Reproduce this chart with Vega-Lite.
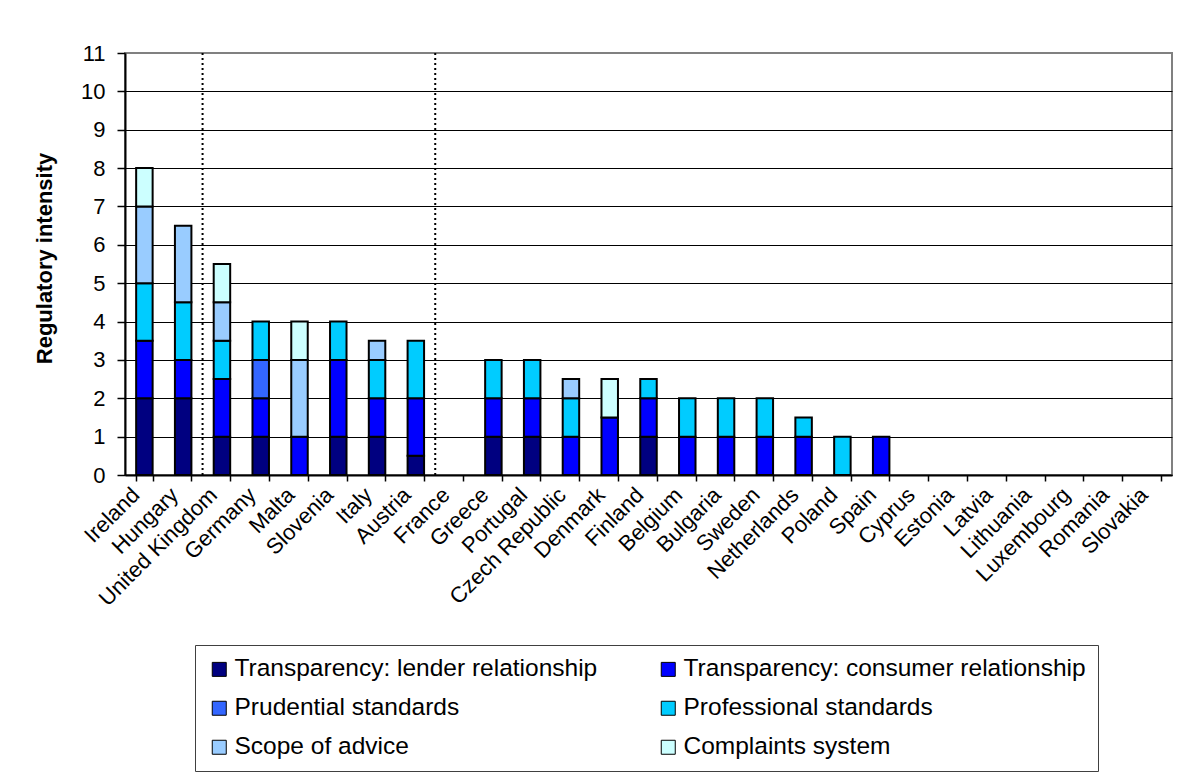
{
  "$schema": "https://vega.github.io/schema/vega-lite/v6.json",
  "width": 1047,
  "height": 422,
  "autosize": {"type": "none"},
  "padding": {"left": 125, "top": 53, "right": 21, "bottom": 302},
  "background": "white",
  "config": {
    "font": "Liberation Sans",
    "view": {"stroke": "#808080", "strokeWidth": 2},
    "axis": {"labelColor": "#000", "titleColor": "#000", "domainColor": "#000", "tickColor": "#000"}
  },
  "datasets": {
    "scores": [
      {"country": "Ireland", "part": "Transparency: lender relationship", "value": 2},
      {"country": "Ireland", "part": "Transparency: consumer relationship", "value": 1.5},
      {"country": "Ireland", "part": "Professional standards", "value": 1.5},
      {"country": "Ireland", "part": "Scope of advice", "value": 2},
      {"country": "Ireland", "part": "Complaints system", "value": 1},
      {"country": "Hungary", "part": "Transparency: lender relationship", "value": 2},
      {"country": "Hungary", "part": "Transparency: consumer relationship", "value": 1},
      {"country": "Hungary", "part": "Professional standards", "value": 1.5},
      {"country": "Hungary", "part": "Scope of advice", "value": 2},
      {"country": "United Kingdom", "part": "Transparency: lender relationship", "value": 1},
      {"country": "United Kingdom", "part": "Transparency: consumer relationship", "value": 1.5},
      {"country": "United Kingdom", "part": "Professional standards", "value": 1},
      {"country": "United Kingdom", "part": "Scope of advice", "value": 1},
      {"country": "United Kingdom", "part": "Complaints system", "value": 1},
      {"country": "Germany", "part": "Transparency: lender relationship", "value": 1},
      {"country": "Germany", "part": "Transparency: consumer relationship", "value": 1},
      {"country": "Germany", "part": "Prudential standards", "value": 1},
      {"country": "Germany", "part": "Professional standards", "value": 1},
      {"country": "Malta", "part": "Transparency: consumer relationship", "value": 1},
      {"country": "Malta", "part": "Scope of advice", "value": 2},
      {"country": "Malta", "part": "Complaints system", "value": 1},
      {"country": "Slovenia", "part": "Transparency: lender relationship", "value": 1},
      {"country": "Slovenia", "part": "Transparency: consumer relationship", "value": 2},
      {"country": "Slovenia", "part": "Professional standards", "value": 1},
      {"country": "Italy", "part": "Transparency: lender relationship", "value": 1},
      {"country": "Italy", "part": "Transparency: consumer relationship", "value": 1},
      {"country": "Italy", "part": "Professional standards", "value": 1},
      {"country": "Italy", "part": "Scope of advice", "value": 0.5},
      {"country": "Austria", "part": "Transparency: lender relationship", "value": 0.5},
      {"country": "Austria", "part": "Transparency: consumer relationship", "value": 1.5},
      {"country": "Austria", "part": "Professional standards", "value": 1.5},
      {"country": "Greece", "part": "Transparency: lender relationship", "value": 1},
      {"country": "Greece", "part": "Transparency: consumer relationship", "value": 1},
      {"country": "Greece", "part": "Professional standards", "value": 1},
      {"country": "Portugal", "part": "Transparency: lender relationship", "value": 1},
      {"country": "Portugal", "part": "Transparency: consumer relationship", "value": 1},
      {"country": "Portugal", "part": "Professional standards", "value": 1},
      {"country": "Czech Republic", "part": "Transparency: consumer relationship", "value": 1},
      {"country": "Czech Republic", "part": "Professional standards", "value": 1},
      {"country": "Czech Republic", "part": "Scope of advice", "value": 0.5},
      {"country": "Denmark", "part": "Transparency: consumer relationship", "value": 1.5},
      {"country": "Denmark", "part": "Complaints system", "value": 1},
      {"country": "Finland", "part": "Transparency: lender relationship", "value": 1},
      {"country": "Finland", "part": "Transparency: consumer relationship", "value": 1},
      {"country": "Finland", "part": "Professional standards", "value": 0.5},
      {"country": "Belgium", "part": "Transparency: consumer relationship", "value": 1},
      {"country": "Belgium", "part": "Professional standards", "value": 1},
      {"country": "Bulgaria", "part": "Transparency: consumer relationship", "value": 1},
      {"country": "Bulgaria", "part": "Professional standards", "value": 1},
      {"country": "Sweden", "part": "Transparency: consumer relationship", "value": 1},
      {"country": "Sweden", "part": "Professional standards", "value": 1},
      {"country": "Netherlands", "part": "Transparency: consumer relationship", "value": 1},
      {"country": "Netherlands", "part": "Professional standards", "value": 0.5},
      {"country": "Poland", "part": "Professional standards", "value": 1},
      {"country": "Spain", "part": "Transparency: consumer relationship", "value": 1}
    ],
    "dividers": [
      {"country": "United Kingdom"},
      {"country": "France"}
    ]
  },
  "layer": [
    {
      "data": {"name": "scores"},
      "transform": [
        {
          "calculate": "indexof(['Transparency: lender relationship', 'Transparency: consumer relationship', 'Prudential standards', 'Professional standards', 'Scope of advice', 'Complaints system'], datum.part)",
          "as": "stackOrder"
        }
      ],
      "mark": {"type": "bar", "stroke": "#000", "strokeWidth": 2},
      "encoding": {
        "x": {
          "field": "country",
          "type": "nominal",
          "scale": {
            "domain": ["Ireland", "Hungary", "United Kingdom", "Germany", "Malta", "Slovenia", "Italy", "Austria", "France", "Greece", "Portugal", "Czech Republic", "Denmark", "Finland", "Belgium", "Bulgaria", "Sweden", "Netherlands", "Poland", "Spain", "Cyprus", "Estonia", "Latvia", "Lithuania", "Luxembourg", "Romania", "Slovakia"],
            "paddingInner": 0.575,
            "paddingOuter": 0.2875
          },
          "axis": {
            "title": null,
            "labelAngle": -45,
            "labelAlign": "right",
            "labelBaseline": "middle",
            "labelFontSize": 22,
            "labelPadding": 10,
            "labelOffset": -9,
            "labelOverlap": false,
            "labelLimit": 0,
            "tickBand": "extent",
            "tickSize": 6,
            "tickWidth": 1.5,
            "domainWidth": 2,
            "grid": false
          }
        },
        "y": {
          "field": "value",
          "type": "quantitative",
          "stack": "zero",
          "scale": {"domain": [0, 11], "nice": false},
          "axis": {
            "values": [0, 1, 2, 3, 4, 5, 6, 7, 8, 9, 10, 11],
            "title": "Regulatory intensity",
            "titleFontSize": 22,
            "titleFontWeight": "bold",
            "titleAngle": -90,
            "titleAlign": "center",
            "titleBaseline": "middle",
            "titleX": -81,
            "titleY": 205,
            "labelFontSize": 22,
            "labelPadding": 12,
            "tickSize": 8,
            "tickWidth": 1.5,
            "domainWidth": 2,
            "grid": true,
            "gridWidth": 1,
            "gridColor": {"condition": {"test": "datum.value === 11", "value": "#808080"}, "value": "#000"}
          }
        },
        "color": {
          "field": "part",
          "type": "nominal",
          "scale": {
            "domain": ["Transparency: lender relationship", "Transparency: consumer relationship", "Prudential standards", "Professional standards", "Scope of advice", "Complaints system"],
            "range": ["#000080", "#0000FF", "#3366FF", "#00CCFF", "#99CCFF", "#CCFFFF"]
          },
          "legend": {
            "title": null,
            "orient": "none",
            "direction": "horizontal",
            "legendX": 70,
            "legendY": 592,
            "columns": 2,
            "gridAlign": "each",
            "columnPadding": 58,
            "rowPadding": 14,
            "padding": 12,
            "strokeColor": "#404040",
            "fillColor": "white",
            "labelFontSize": 24.5,
            "labelColor": "#000",
            "labelLimit": 0,
            "labelOffset": 3,
            "symbolType": "square",
            "symbolSize": 196,
            "symbolStrokeColor": "#000",
            "symbolStrokeWidth": 1,
            "symbolOpacity": 1
          }
        },
        "order": {"field": "stackOrder", "type": "quantitative"}
      }
    },
    {
      "data": {"name": "dividers"},
      "mark": {"type": "rule", "color": "#000", "strokeWidth": 2, "strokeDash": [2, 3]},
      "encoding": {
        "x": {"field": "country", "type": "nominal", "bandPosition": -0.676}
      }
    }
  ]
}
